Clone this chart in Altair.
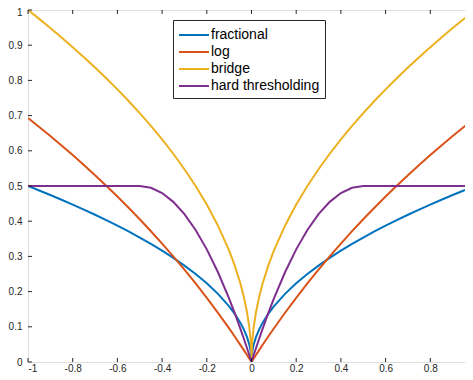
import altair as alt
import pandas as pd

x_vals = [-1.0, -0.95, -0.9, -0.85, -0.8, -0.75, -0.7, -0.65, -0.6, -0.55, -0.5, -0.45, -0.4, -0.35,
          -0.3, -0.25, -0.2, -0.15, -0.1, -0.075, -0.05, -0.035, -0.02, -0.01, -0.004, -0.001,
          0.0,
          0.001, 0.004, 0.01, 0.02, 0.035, 0.05, 0.075, 0.1, 0.15, 0.2, 0.25, 0.3, 0.35, 0.4, 0.45,
          0.5, 0.55, 0.6, 0.65, 0.7, 0.75, 0.8, 0.85, 0.9, 0.95, 1.0]

fractional = [0.5, 0.4873, 0.4743, 0.4610, 0.4472, 0.4330, 0.4183, 0.4031, 0.3873, 0.3708, 0.3536,
              0.3354, 0.3162, 0.2958, 0.2739, 0.25, 0.2236, 0.1936, 0.1581, 0.1369, 0.1118, 0.0935,
              0.0707, 0.05, 0.0316, 0.0158,
              0.0,
              0.0158, 0.0316, 0.05, 0.0707, 0.0935, 0.1118, 0.1369, 0.1581, 0.1936, 0.2236, 0.25,
              0.2739, 0.2958, 0.3162, 0.3354, 0.3536, 0.3708, 0.3873, 0.4031, 0.4183, 0.4330, 0.4472,
              0.4610, 0.4743, 0.4873, 0.5]

log_pen = [0.6931, 0.6678, 0.6419, 0.6152, 0.5878, 0.5596, 0.5306, 0.5008, 0.4700, 0.4383, 0.4055,
           0.3716, 0.3365, 0.3001, 0.2624, 0.2231, 0.1823, 0.1398, 0.0953, 0.0723, 0.0488, 0.0344,
           0.0198, 0.0100, 0.0040, 0.0010,
           0.0,
           0.0010, 0.0040, 0.0100, 0.0198, 0.0344, 0.0488, 0.0723, 0.0953, 0.1398, 0.1823, 0.2231,
           0.2624, 0.3001, 0.3365, 0.3716, 0.4055, 0.4383, 0.4700, 0.5008, 0.5306, 0.5596, 0.5878,
           0.6152, 0.6419, 0.6678, 0.6931]

bridge = [1.0, 0.9747, 0.9487, 0.9220, 0.8944, 0.8660, 0.8367, 0.8062, 0.7746, 0.7416, 0.7071,
          0.6708, 0.6325, 0.5916, 0.5477, 0.5, 0.4472, 0.3873, 0.3162, 0.2739, 0.2236, 0.1871,
          0.1414, 0.1, 0.0632, 0.0316,
          0.0,
          0.0316, 0.0632, 0.1, 0.1414, 0.1871, 0.2236, 0.2739, 0.3162, 0.3873, 0.4472, 0.5,
          0.5477, 0.5916, 0.6325, 0.6708, 0.7071, 0.7416, 0.7746, 0.8062, 0.8367, 0.8660, 0.8944,
          0.9220, 0.9487, 0.9747, 1.0]

hard = [0.5, 0.5, 0.5, 0.5, 0.5, 0.5, 0.5, 0.5, 0.5, 0.5, 0.5,
        0.495, 0.48, 0.455, 0.42, 0.375, 0.32, 0.255, 0.18, 0.1388, 0.095, 0.0676,
        0.0392, 0.0198, 0.0080, 0.0020,
        0.0,
        0.0020, 0.0080, 0.0198, 0.0392, 0.0676, 0.095, 0.1388, 0.18, 0.255, 0.32, 0.375,
        0.42, 0.455, 0.48, 0.495, 0.5, 0.5, 0.5, 0.5, 0.5, 0.5, 0.5,
        0.5, 0.5, 0.5, 0.5]

series_names = ["fractional", "log", "bridge", "hard thresholding"]
series_colors = ["#0072BD", "#D95319", "#EDB120", "#7E2F8E"]

x_ticks = [-1, -0.8, -0.6, -0.4, -0.2, 0, 0.2, 0.4, 0.6, 0.8]
y_ticks = [0, 0.1, 0.2, 0.3, 0.4, 0.5, 0.6, 0.7, 0.8, 0.9, 1]

rows = []
for name, vals in zip(series_names, [fractional, log_pen, bridge, hard]):
    for xv, yv in zip(x_vals, vals):
        rows.append({"x": xv, "y": yv, "series": name})
df = pd.DataFrame(rows)

W, H = 447, 352
FONT = "Liberation Sans"
AX = "#262626"

xscale = alt.Scale(domain=[-1, 1], nice=False)
yscale = alt.Scale(domain=[0, 1], nice=False)

x_axis = alt.Axis(values=x_ticks, title=None, grid=False, domain=False, ticks=False,
                  labelExpr="'' + datum.value", labelPadding=1, labelFontSize=10,
                  labelFont=FONT, labelColor=AX, labelOverlap=False)
y_axis = alt.Axis(values=y_ticks, title=None, grid=False, domain=False, ticks=False,
                  labelExpr="'' + datum.value", labelPadding=6, labelFontSize=10,
                  labelFont=FONT, labelColor=AX, labelOverlap=False,
                  labelOffset={"condition": {"test": "datum.value == 1", "value": 2}, "value": 0})

lines = alt.Chart(df).mark_line(strokeWidth=2, clip=True).encode(
    x=alt.X("x:Q", scale=xscale, axis=x_axis),
    y=alt.Y("y:Q", scale=yscale, axis=y_axis),
    color=alt.Color("series:N", sort=series_names,
                    scale=alt.Scale(domain=series_names, range=series_colors),
                    legend=alt.Legend(title=None, orient="none", legendX=145, legendY=10,
                                      strokeColor=AX, fillColor="white", padding=5,
                                      labelFontSize=14, labelFont=FONT, labelColor="#000000",
                                      rowPadding=0, symbolSize=324, symbolType="M-1,0H2.33",
                                      symbolStrokeWidth=2, labelOffset=13)),
    detail="series:N",
)

xt_df = pd.DataFrame({"x": x_ticks})
yt_df = pd.DataFrame({"y": y_ticks})

tick_style = dict(color=AX, strokeWidth=1)
bottom_ticks = alt.Chart(xt_df).mark_rule(**tick_style).encode(
    x=alt.X("x:Q", scale=xscale, axis=x_axis), y=alt.value(H), y2=alt.value(H - 4))
top_ticks = alt.Chart(xt_df).mark_rule(**tick_style).encode(
    x=alt.X("x:Q", scale=xscale, axis=x_axis), y=alt.value(0), y2=alt.value(4))
left_ticks = alt.Chart(yt_df).mark_rule(**tick_style).encode(
    y=alt.Y("y:Q", scale=yscale, axis=y_axis), x=alt.value(0), x2=alt.value(4))
right_ticks = alt.Chart(yt_df).mark_rule(**tick_style).encode(
    y=alt.Y("y:Q", scale=yscale, axis=y_axis), x=alt.value(W), x2=alt.value(W - 4))

chart = alt.layer(lines, bottom_ticks, top_ticks, left_ticks, right_ticks).properties(
    width=W, height=H,
    autosize=alt.AutoSizeParams(type="none"),
    padding={"left": 20, "top": 2, "right": -10, "bottom": 10},
).configure_view(stroke=AX, strokeWidth=1).configure(background="white")

chart.save("out.html", embed_options={"renderer": "svg", "actions": False})
